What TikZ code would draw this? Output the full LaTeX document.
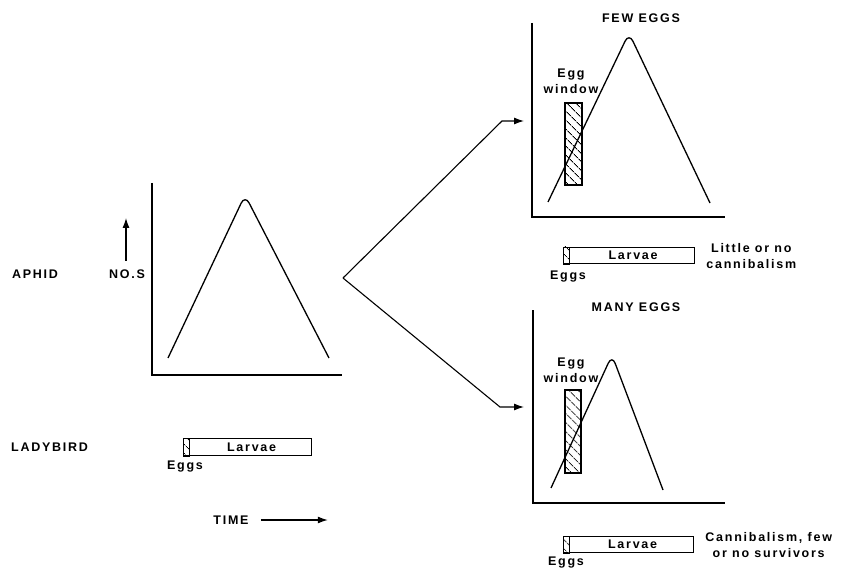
\documentclass[tikz,border=0pt]{standalone}
\usepackage{fontspec}
\setmainfont{Liberation Sans}[LetterSpace=14]
\usetikzlibrary{arrows.meta,positioning,patterns.meta}

\begin{document}
\begin{tikzpicture}[x=1pt,y=-1pt,
  lbl/.style={font=\bfseries\fontsize{12.5}{16}\selectfont, inner sep=0pt, align=center},
  axis/.style={line width=1.6pt},
  curve/.style={line width=1.3pt, rounded corners=9pt},
  arr/.style={-{Latex[length=10pt,width=7pt]}, line width=1.1pt},
  hatch/.style={pattern={Lines[angle=-45,distance=6.5pt,line width=0.8pt]}},
  window/.style={draw, line width=1.3pt, hatch},
  bar/.style={draw, line width=1.2pt, minimum height=16pt, inner sep=0pt,
              font=\bfseries\fontsize{12.5}{16}\selectfont}
]
  \useasboundingbox (0,0) rectangle (849,572);

  \node[lbl] (aphid) at (35,274) {APHID};
  \node[lbl] (nos) at (127,274) {NO.S};
  \node[lbl, anchor=west] (ladybird) at (11,447) {LADYBIRD};
  \draw[arr] (126,261) -- (126,218);

  \draw[axis] (152,183) |- (342,375);
  \draw[curve] (168,358) -- (245,195) -- (329,358);

  \node[bar, anchor=north west, minimum width=128pt, minimum height=17pt] (lbar) at (183,438) {\hspace*{8pt}Larvae};
  \draw[hatch] (lbar.north west) rectangle ([xshift=6pt]lbar.south west);
  \node[lbl] (leggs) at (185,467) {Eggs};
  \node[lbl] (time) at (231,520) {TIME};
  \draw[arr] ([xshift=12pt]time.east) -- ++(67,0);

  \coordinate (fork) at (343,278);
  \coordinate (fewbend) at (502,121);
  \coordinate (fewin) at (524,121);
  \coordinate (manybend) at (500,407);
  \coordinate (manyin) at (524,407);
  \draw[arr] (fork) -- (fewbend) -- (fewin);
  \draw[arr] (fork) -- (manybend) -- (manyin);

  \node[lbl] (few) at (641,18) {FEW EGGS};
  \draw[axis] (532,23) |- (725,217);
  \draw[window] (565,103) rectangle (582,185);
  \draw[curve] (548,202) -- (629,33) -- (710,203);
  \node[lbl] (fewwin) at (571,81) {Egg\\window};
  \node[bar, anchor=north west, minimum width=131pt] (fewbar) at (563,247) {\hspace*{8pt}Larvae};
  \draw[hatch] (fewbar.north west) rectangle ([xshift=6pt]fewbar.south west);
  \node[lbl] (feweggs) at (568,277) {Eggs};
  \node[lbl, right=11pt of fewbar.east] (fewnote) {Little or no\\cannibalism};

  \node[lbl] (many) at (636,307) {MANY EGGS};
  \draw[axis] (533,310) |- (725,503);
  \draw[window] (565,390) rectangle (581,473);
  \draw[curve] (551,488) -- (612,355) -- (663,490);
  \node[lbl] (manywin) at (571,370) {Egg\\window};
  \node[bar, anchor=north west, minimum width=130pt] (manybar) at (563,536) {\hspace*{8pt}Larvae};
  \draw[hatch] (manybar.north west) rectangle ([xshift=6pt]manybar.south west);
  \node[lbl] (manyeggs) at (566,563) {Eggs};
  \node[lbl, right=11pt of manybar.east] (manynote) {Cannibalism, few\\or no survivors};
\end{tikzpicture}
\end{document}
